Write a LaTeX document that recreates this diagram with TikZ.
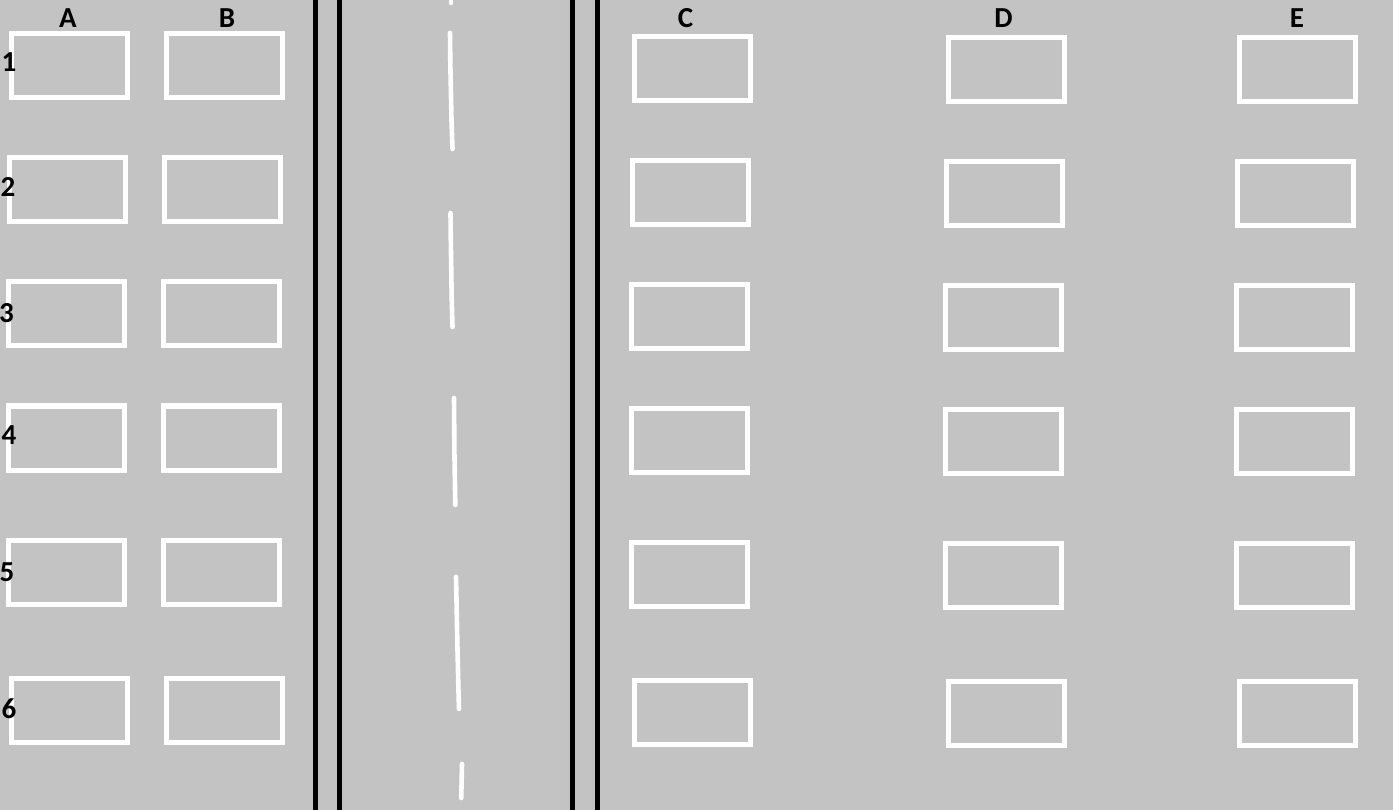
\documentclass[tikz,border=0pt]{standalone}
\usepackage{fontspec}
\setmainfont{Carlito}[BoldFont={Carlito Bold}]
\definecolor{roadgray}{RGB}{195,195,195}

\begin{document}
\begin{tikzpicture}[x=1pt, y=-1pt,
  space/.style={draw=white, line width=5pt},
  curb/.style={draw=black, line width=4.5pt},
  stripe/.style={draw=white, line width=4.6pt, line cap=round, line join=round},
  tag/.style={inner sep=0pt, font=\fontsize{29}{29}\selectfont\bfseries}]
% draw ground
\useasboundingbox (0,0) rectangle (1393,810);
\fill[roadgray] (0,0) rectangle (1393,810);
% draw column A
\draw[space] (11.5,33.5) rectangle (127.5,97.5);
\draw[space] (9.5,157.5) rectangle (125.5,221.5);
\draw[space] (8.5,281.5) rectangle (124.5,345.5);
\draw[space] (8.5,406) rectangle (124.5,470);
\draw[space] (8.5,540.5) rectangle (124.5,604.5);
\draw[space] (11.5,678.5) rectangle (127.5,742.5);
% draw column B
\draw[space] (166.5,33.5) rectangle (282.5,97.5);
\draw[space] (164.5,157.5) rectangle (280.5,221.5);
\draw[space] (163.5,281.5) rectangle (279.5,345.5);
\draw[space] (163.5,406) rectangle (279.5,470);
\draw[space] (163.5,540.5) rectangle (279.5,604.5);
\draw[space] (166.5,678.5) rectangle (282.5,742.5);
% draw curbs
\draw[curb] (315.5,0) -- (315.5,810);
\draw[curb] (339.5,0) -- (339.5,810);
\draw[curb] (572.5,0) -- (572.5,810);
\draw[curb] (597.5,0) -- (597.5,810);
% draw middle line
\draw[stripe] (451,-4) -- (451,3);
\draw[stripe] (450,33) -- (450.3,62) -- (451.5,120) -- (452.5,149);
\draw[stripe] (450.5,213) -- (450.8,241) -- (451.7,298) -- (452.5,327);
\draw[stripe] (454,398) -- (454.4,452) -- (455.3,505);
\draw[stripe] (456,577) -- (456.5,600) -- (457.4,645) -- (458.4,688) -- (459,709);
\draw[stripe] (462,764) -- (461.6,783) -- (461.2,798);
% draw column C
\draw[space] (634.5,36.5) rectangle (750.5,100.5);
\draw[space] (632.5,160.5) rectangle (748.5,224.5);
\draw[space] (631.5,284.5) rectangle (747.5,348.5);
\draw[space] (631.5,408.5) rectangle (747.5,472.5);
\draw[space] (631.5,542.5) rectangle (747.5,606.5);
\draw[space] (634.5,680.5) rectangle (750.5,744.5);
% draw column D
\draw[space] (948.5,37.5) rectangle (1064.5,101.5);
\draw[space] (946.5,161.5) rectangle (1062.5,225.5);
\draw[space] (945.5,285.5) rectangle (1061.5,349.5);
\draw[space] (945.5,409.5) rectangle (1061.5,473.5);
\draw[space] (945.5,543.5) rectangle (1061.5,607.5);
\draw[space] (948.5,681.5) rectangle (1064.5,745.5);
% draw column E
\draw[space] (1239.5,37.5) rectangle (1355.5,101.5);
\draw[space] (1237.5,161.5) rectangle (1353.5,225.5);
\draw[space] (1236.5,285.5) rectangle (1352.5,349.5);
\draw[space] (1236.5,409.5) rectangle (1352.5,473.5);
\draw[space] (1236.5,543.5) rectangle (1352.5,607.5);
\draw[space] (1239.5,681.5) rectangle (1355.5,745.5);
% draw column names
\node[tag] (colA) at (68,18) {A};
\node[tag] (colB) at (227,18) {B};
\node[tag] (colC) at (685.5,18) {C};
\node[tag] (colD) at (1003.5,18) {D};
\node[tag] (colE) at (1297,18) {E};
% draw row numbers
\node[tag] (row1) at (9,62.5) {1};
\node[tag] (row2) at (8,187) {2};
\node[tag] (row3) at (6.5,313) {3};
\node[tag] (row4) at (9,435) {4};
\node[tag] (row5) at (7,572) {5};
\node[tag] (row6) at (9,708.5) {6};
\end{tikzpicture}
\end{document}
